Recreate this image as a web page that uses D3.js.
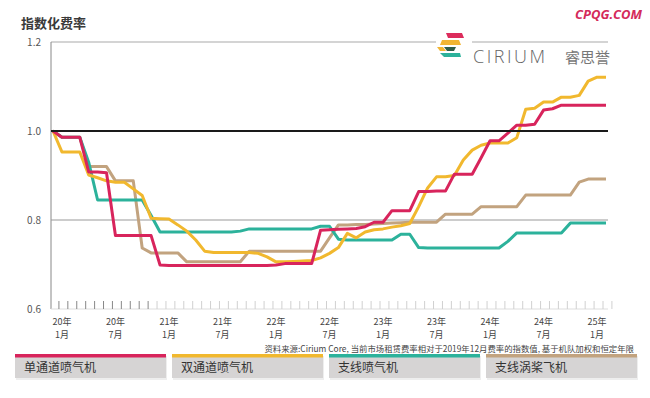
<!DOCTYPE html>
<html lang="zh">
<head>
<meta charset="UTF-8">
<title>指数化费率</title>
<script src="https://d3js.org/d3.v7.min.js"></script>
<style>
  body { margin: 0; background: #fff; }
  svg text { font-family: "Noto Sans CJK SC", "Noto Sans", sans-serif; }
</style>
</head>
<body>
<div id="chart"></div>
<script>
    // monthly index values, first point = 2019年12月 (1.0), last = 2025年2月
    const series = ["单通道喷气机", "双通道喷气机", "支线喷气机", "支线涡桨飞机"];
    const colors = ["#d8245c", "#f1b82e", "#2cb29b", "#c2a37f"];

    const narrowbody = [1.0, 0.986, 0.986, 0.986, 0.908, 0.908, 0.906, 0.765, 0.765, 0.765,
        0.765, 0.765, 0.699, 0.698, 0.698, 0.698, 0.698, 0.698, 0.698, 0.698,
        0.698, 0.698, 0.698, 0.698, 0.698, 0.699, 0.702, 0.702, 0.702, 0.702,
        0.777, 0.778, 0.779, 0.780, 0.781, 0.785, 0.795, 0.795, 0.821, 0.821,
        0.821, 0.864, 0.864, 0.865, 0.865, 0.903, 0.903, 0.903, 0.940, 0.978,
        0.978, 0.995, 1.013, 1.013, 1.015, 1.047, 1.050, 1.058, 1.058, 1.058,
        1.058, 1.058, 1.058];
    const widebody = [1.0, 0.953, 0.953, 0.953, 0.901, 0.895, 0.888, 0.885, 0.885, 0.870,
        0.855, 0.804, 0.803, 0.802, 0.789, 0.775, 0.755, 0.730, 0.727, 0.727,
        0.727, 0.727, 0.727, 0.725, 0.717, 0.706, 0.706, 0.707, 0.708, 0.709,
        0.715, 0.725, 0.738, 0.770, 0.760, 0.773, 0.778, 0.780, 0.784, 0.787,
        0.792, 0.830, 0.872, 0.897, 0.897, 0.900, 0.935, 0.957, 0.968, 0.973,
        0.973, 0.973, 0.985, 1.049, 1.051, 1.065, 1.065, 1.076, 1.076, 1.080,
        1.112, 1.121, 1.121];
    const regionalJet = [1.0, 0.986, 0.986, 0.986, 0.930, 0.845, 0.845, 0.845, 0.845, 0.845,
        0.845, 0.810, 0.773, 0.773, 0.773, 0.773, 0.773, 0.773, 0.773, 0.773,
        0.773, 0.775, 0.780, 0.780, 0.780, 0.780, 0.780, 0.780, 0.780, 0.780,
        0.786, 0.786, 0.757, 0.755, 0.755, 0.755, 0.755, 0.755, 0.755, 0.768,
        0.768, 0.738, 0.737, 0.737, 0.737, 0.737, 0.737, 0.737, 0.737, 0.737,
        0.737, 0.752, 0.771, 0.771, 0.771, 0.771, 0.771, 0.771, 0.793, 0.793,
        0.793, 0.793, 0.793];
    const turboprop = [1.0, 0.986, 0.986, 0.986, 0.920, 0.920, 0.920, 0.888, 0.888, 0.888,
        0.737, 0.726, 0.726, 0.726, 0.726, 0.706, 0.706, 0.706, 0.706, 0.706,
        0.706, 0.706, 0.730, 0.730, 0.730, 0.730, 0.730, 0.730, 0.730, 0.730,
        0.730, 0.760, 0.789, 0.789, 0.790, 0.790, 0.791, 0.792, 0.793, 0.794,
        0.795, 0.795, 0.795, 0.795, 0.813, 0.813, 0.813, 0.813, 0.830, 0.830,
        0.830, 0.830, 0.830, 0.856, 0.856, 0.856, 0.856, 0.856, 0.856, 0.885,
        0.892, 0.892, 0.892];
    const values = [narrowbody, widebody, regionalJet, turboprop];

    const yTicks = [0.6, 0.8, 1.0, 1.2];
    const xTickMonths = [1, 7, 13, 19, 25, 31, 37, 43, 49, 55, 61];
    const xTickYears = ["20年", "20年", "21年", "21年", "22年", "22年", "23年", "23年", "24年", "24年", "25年"];
    const xTickMonthNames = ["1月", "7月", "1月", "7月", "1月", "7月", "1月", "7月", "1月", "7月", "1月"];

    const source = "资料来源:Cirium Core, 当前市场租赁费率相对于2019年12月费率的指数值, 基于机队加权和恒定年限";

    const width = 650, height = 398;
    const svg = d3.select("#chart").append("svg")
        .attr("width", width)
        .attr("height", height);

    const x = d3.scaleLinear().domain([0, 62]).range([53, 606]);
    const y = d3.scaleLinear().domain([0.6, 1.2]).range([309, 42]);
    const left = 51, right = 608;

    // title
    svg.append("text")
        .attr("x", 21).attr("y", 28)
        .attr("font-size", 13).attr("font-weight", "bold")
        .attr("fill", "#3a3a3a")
        .text("指数化费率");

    // watermark
    svg.append("text")
        .attr("x", 642).attr("y", 19)
        .attr("text-anchor", "end")
        .attr("font-size", 13).attr("font-weight", "bold")
        .attr("font-style", "italic")
        .attr("fill", "#d42a5a")
        .style("font-family", "'Open Sans', 'DejaVu Sans', sans-serif")
        .text("CPQG.COM");

    // y axis labels
    svg.selectAll(".ylab")
        .data(yTicks)
        .enter().append("text")
        .attr("class", "ylab")
        .attr("x", 41)
        .attr("y", d => y(d) + 4)
        .attr("text-anchor", "end")
        .attr("font-size", 10)
        .attr("fill", "#555")
        .text(d => d.toFixed(1));

    // frame: top line and left axis
    svg.append("line")
        .attr("x1", left).attr("x2", right)
        .attr("y1", y(1.2)).attr("y2", y(1.2))
        .attr("stroke", "#aaa").attr("stroke-width", 1.2);
    svg.append("line")
        .attr("x1", left).attr("x2", left)
        .attr("y1", y(1.2)).attr("y2", y(0.6))
        .attr("stroke", "#888").attr("stroke-width", 1);

    // gridlines
    svg.append("line")
        .attr("x1", left).attr("x2", right)
        .attr("y1", y(0.8)).attr("y2", y(0.8))
        .attr("stroke", "#999").attr("stroke-width", 1);
    svg.append("line")
        .attr("x1", left).attr("x2", right)
        .attr("y1", y(0.6)).attr("y2", y(0.6))
        .attr("stroke", "#ddd").attr("stroke-width", 1);

    // monthly ticks on baseline
    const tickIdx = d3.range(1, 64);
    svg.selectAll(".mtick")
        .data(tickIdx)
        .enter().append("line")
        .attr("class", "mtick")
        .attr("x1", d => x(d) - 3).attr("x2", d => x(d) - 3)
        .attr("y1", y(0.6) - 8).attr("y2", y(0.6))
        .attr("stroke", d => d <= 11 ? "#888" : "#d0d0d0")
        .attr("stroke-width", 1);

    // x labels, two lines each
    svg.selectAll(".xyear")
        .data(xTickMonths)
        .enter().append("text")
        .attr("class", "xyear")
        .attr("x", d => x(d))
        .attr("y", 325)
        .attr("text-anchor", "middle")
        .attr("font-size", 9)
        .attr("fill", "#444")
        .text((d, i) => xTickYears[i]);
    svg.selectAll(".xmonth")
        .data(xTickMonths)
        .enter().append("text")
        .attr("class", "xmonth")
        .attr("x", d => x(d))
        .attr("y", 337.8)
        .attr("text-anchor", "middle")
        .attr("font-size", 9)
        .attr("fill", "#444")
        .text((d, i) => xTickMonthNames[i]);

    // series lines (turboprop first, narrowbody on top)
    const line = d3.line()
        .x((d, i) => x(i))
        .y(d => y(d));
    [3, 2, 1, 0].forEach(k => {
        svg.append("path")
            .datum(values[k])
            .attr("d", line)
            .attr("fill", "none")
            .attr("stroke", colors[k])
            .attr("stroke-width", 3)
            .attr("stroke-linejoin", "round");
    });

    // 1.0 reference line
    svg.append("line")
        .attr("x1", left).attr("x2", right)
        .attr("y1", y(1.0)).attr("y2", y(1.0))
        .attr("stroke", "#1a1a1a").attr("stroke-width", 2);

    // logo
    const logo = svg.append("g").attr("transform", "translate(436,31)");
    logo.append("rect").attr("x", 0).attr("y", 0).attr("width", 36).attr("height", 30).attr("fill", "#fff");
    logo.append("polygon").attr("points", "10,2 26,2 28,7 12,7").attr("fill", "#dc2c5c");
    logo.append("polygon").attr("points", "6,9 23,9 25,14 4,14").attr("fill", "#f2b533");
    logo.append("polygon").attr("points", "1,16 7,16 10,20 4,20").attr("fill", "#f2b533");
    logo.append("polygon").attr("points", "8,16 20,16 18,20 11,20").attr("fill", "#2f5d4a");
    logo.append("polygon").attr("points", "4,22 24,22 25,26 8,26").attr("fill", "#2cb29b");
    svg.append("text")
        .attr("x", 473).attr("y", 63)
        .attr("font-size", 18)
        .attr("letter-spacing", 2.5)
        .attr("fill", "#666")
        .style("font-family", "'Open Sans', 'DejaVu Sans', sans-serif")
        .style("font-weight", 300)
        .text("CIRIUM");
    svg.append("text")
        .attr("x", 565).attr("y", 63)
        .attr("font-size", 15)
        .attr("fill", "#777")
        .text("睿思誉");

    // source note
    svg.append("text")
        .attr("x", 634).attr("y", 351.5)
        .attr("text-anchor", "end")
        .attr("font-size", 8.4)
        .attr("fill", "#444")
        .text(source);

    // legend boxes
    const lg = svg.selectAll(".leg")
        .data(series)
        .enter().append("g")
        .attr("class", "leg")
        .attr("transform", (d, i) => "translate(" + (15 + i * 157) + ",354)");
    lg.append("rect")
        .attr("x", 1).attr("y", 2)
        .attr("width", 151).attr("height", 24)
        .attr("fill", "#eee");
    lg.append("rect")
        .attr("width", 151).attr("height", 24)
        .attr("fill", "#d6d4d4");
    lg.append("rect")
        .attr("width", 151).attr("height", 3.5)
        .attr("fill", (d, i) => colors[i]);
    lg.append("text")
        .attr("x", 9).attr("y", 18)
        .attr("font-size", 12)
        .attr("fill", "#333")
        .text(d => d);
</script>
</body>
</html>
